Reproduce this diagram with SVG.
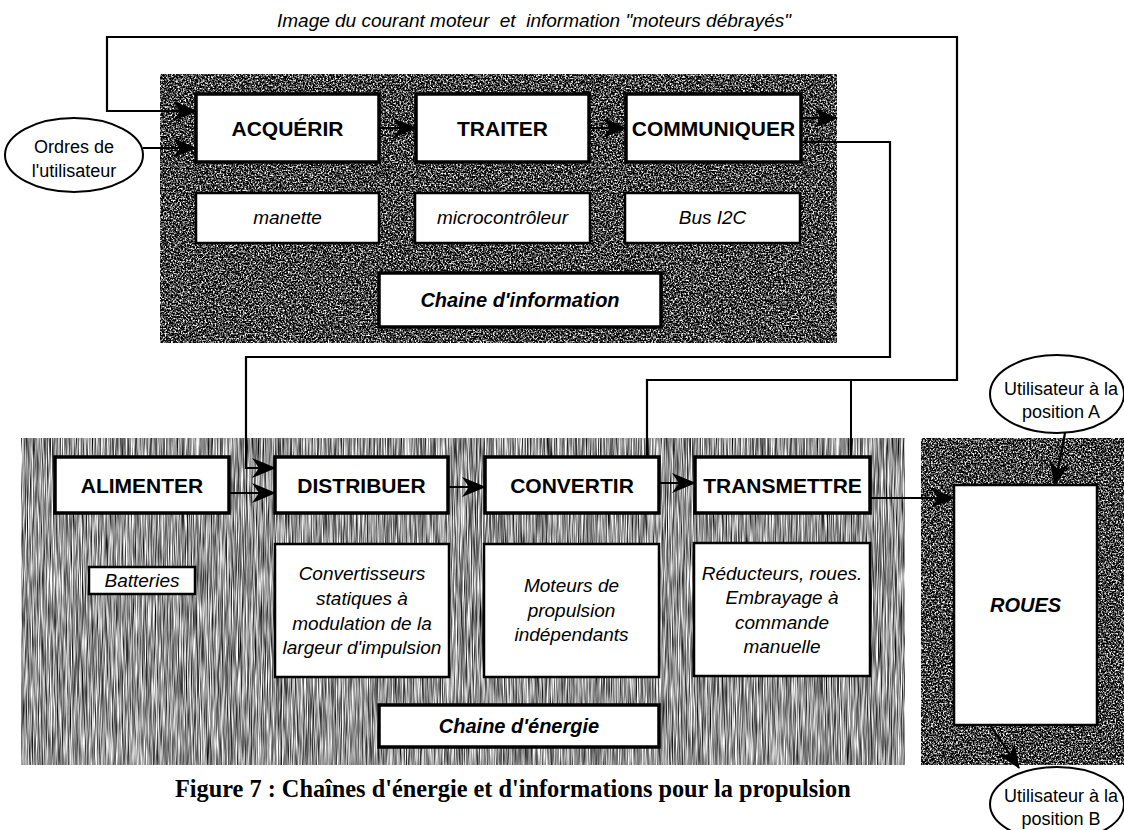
<svg xmlns="http://www.w3.org/2000/svg" width="1124" height="830" viewBox="0 0 1124 830">
<defs>
<filter id="speck" x="0" y="0" width="1" height="1" filterUnits="objectBoundingBox" color-interpolation-filters="sRGB">
<feTurbulence type="fractalNoise" baseFrequency="0.6" numOctaves="3" seed="7"/>
<feColorMatrix type="matrix" values="3 0 0 0 -1.25  3 0 0 0 -1.25  3 0 0 0 -1.25  0 0 0 0 1"/>
</filter>
<filter id="stripe" x="0" y="0" width="1" height="1" filterUnits="objectBoundingBox" color-interpolation-filters="sRGB">
<feTurbulence type="fractalNoise" baseFrequency="1.2 0.03" numOctaves="2" seed="3"/>
<feColorMatrix type="matrix" values="1.6 0 0 0 -0.22  1.6 0 0 0 -0.22  1.6 0 0 0 -0.22  0 0 0 0 1"/>
</filter>
<marker id="ah" markerUnits="userSpaceOnUse" markerWidth="24" markerHeight="22" viewBox="0 0 24 22" refX="23" refY="11" orient="auto">
<path d="M0,1 L24,11 L0,21 L7,11 z" fill="#000"/>
</marker>
</defs>
<style>
.tb{fill:#fff;stroke:#000;stroke-width:3.5}
.db{fill:#fff;stroke:#000;stroke-width:2.5}
.el{fill:#fff;stroke:#000;stroke-width:2}
.t{font-family:"Liberation Sans",Arial,sans-serif;font-weight:bold;font-size:21px;text-anchor:middle;fill:#000}
.i{font-family:"Liberation Sans",Arial,sans-serif;font-style:italic;font-size:19px;text-anchor:middle;fill:#000}
.bi{font-family:"Liberation Sans",Arial,sans-serif;font-style:italic;font-weight:bold;font-size:20px;text-anchor:middle;fill:#000}
.e{font-family:"Liberation Sans",Arial,sans-serif;font-size:18px;text-anchor:middle;fill:#000}
.c{fill:none;stroke:#000;stroke-width:2}
.a{fill:none;stroke:#000;stroke-width:2.2;marker-end:url(#ah)}
</style>
<rect width="1124" height="830" fill="#fff"/>

<g id="panel-information">
<rect x="160" y="74" width="677" height="269" fill="#444" filter="url(#speck)"/>
</g>
<g id="panel-energie">
<rect x="21" y="438" width="884" height="327" fill="#999" filter="url(#stripe)"/>
</g>
<g id="panel-roues">
<rect x="921" y="438" width="203" height="327" fill="#444" filter="url(#speck)"/>
</g>

<text class="i" x="534" y="27" font-size="21" xml:space="preserve">Image du courant moteur  et  information "moteurs débrayés"</text>

<g id="ordres">
<ellipse class="el" cx="74" cy="155" rx="69" ry="37"/>
<text class="e" x="74" y="153">Ordres de</text>
<text class="e" x="74" y="177">l'utilisateur</text>
</g>

<g id="acquerir"><rect class="tb" x="196" y="94" width="183" height="68"/><text class="t" x="287.5" y="135.5">ACQUÉRIR</text></g>
<g id="traiter"><rect class="tb" x="416" y="94" width="173" height="68"/><text class="t" x="502.5" y="135.5">TRAITER</text></g>
<g id="communiquer"><rect class="tb" x="626" y="94" width="175" height="68"/><text class="t" x="713.5" y="135.5">COMMUNIQUER</text></g>

<g id="manette"><rect class="db" x="196" y="193" width="183" height="50"/><text class="i" x="287.5" y="224">manette</text></g>
<g id="microcontroleur"><rect class="db" x="415" y="193" width="175" height="50"/><text class="i" x="502.5" y="224">microcontrôleur</text></g>
<g id="bus-i2c"><rect class="db" x="625" y="193" width="175" height="50"/><text class="i" x="712.5" y="224">Bus I2C</text></g>
<g id="chaine-information"><rect class="tb" x="379" y="273" width="282" height="54" stroke-width="3"/><text class="bi" x="520" y="307">Chaine d'information</text></g>

<g id="alimenter"><rect class="tb" x="55" y="457" width="174" height="56"/><text class="t" x="142" y="492.5">ALIMENTER</text></g>
<g id="distribuer"><rect class="tb" x="275" y="457" width="173" height="56"/><text class="t" x="361.5" y="492.5">DISTRIBUER</text></g>
<g id="convertir"><rect class="tb" x="485" y="457" width="174" height="56"/><text class="t" x="572" y="492.5">CONVERTIR</text></g>
<g id="transmettre"><rect class="tb" x="695" y="457" width="175" height="56"/><text class="t" x="782.5" y="492.5">TRANSMETTRE</text></g>

<g id="batteries"><rect class="db" x="89" y="567" width="106" height="27"/><text class="i" x="142" y="587">Batteries</text></g>
<g id="convertisseurs"><rect class="db" x="275" y="544" width="174" height="133"/>
<text class="i" x="362" y="580">Convertisseurs</text>
<text class="i" x="362" y="605">statiques à</text>
<text class="i" x="362" y="630">modulation de la</text>
<text class="i" x="362" y="654">largeur d'impulsion</text></g>
<g id="moteurs"><rect class="db" x="484" y="544" width="175" height="133"/>
<text class="i" x="571.5" y="592">Moteurs de</text>
<text class="i" x="571.5" y="617">propulsion</text>
<text class="i" x="571.5" y="641">indépendants</text></g>
<g id="reducteurs"><rect class="db" x="694" y="543" width="176" height="133"/>
<text class="i" x="782" y="580">Réducteurs, roues.</text>
<text class="i" x="782" y="604">Embrayage à</text>
<text class="i" x="782" y="629">commande</text>
<text class="i" x="782" y="653">manuelle</text></g>
<g id="chaine-energie"><rect class="tb" x="379" y="705" width="280" height="42" stroke-width="3"/><text class="bi" x="519" y="733">Chaine d'énergie</text></g>

<g id="roues"><rect class="db" x="954" y="485" width="143" height="240"/><text class="bi" x="1025.5" y="612" font-size="21">ROUES</text></g>

<g id="utilisateur-a">
<ellipse class="el" cx="1057" cy="394" rx="67" ry="39"/>
<text class="e" x="1061" y="395">Utilisateur à la</text>
<text class="e" x="1061" y="418">position A</text>
</g>
<g id="utilisateur-b">
<ellipse class="el" cx="1057" cy="804" rx="67" ry="37"/>
<text class="e" x="1061" y="802">Utilisateur à la</text>
<text class="e" x="1061" y="825">position B</text>
</g>

<g id="connectors">
<path class="a" d="M647,457 V380 H957 V37 H107 V111 H196"/>
<path class="c" d="M851,457 V380"/>
<path class="a" d="M143,148 H196"/>
<path class="a" d="M379,128 H416"/>
<path class="a" d="M589,128 H626"/>
<path class="a" d="M801,118 H837"/>
<path class="a" d="M801,142 H890 V357 H246 V468 H275"/>
<path class="a" d="M229,493 H275"/>
<path class="a" d="M448,487 H485"/>
<path class="a" d="M659,483 H695"/>
<path class="a" d="M870,498 H954"/>
<path class="a" d="M1065,433 L1055,485"/>
<path class="a" d="M990,725 L1019,768"/>
</g>

<text x="175" y="797" font-family="Liberation Serif,'Times New Roman',serif" font-weight="bold" font-size="24.3" fill="#000">Figure 7 : Chaînes d'énergie et d'informations pour la propulsion</text>
</svg>
